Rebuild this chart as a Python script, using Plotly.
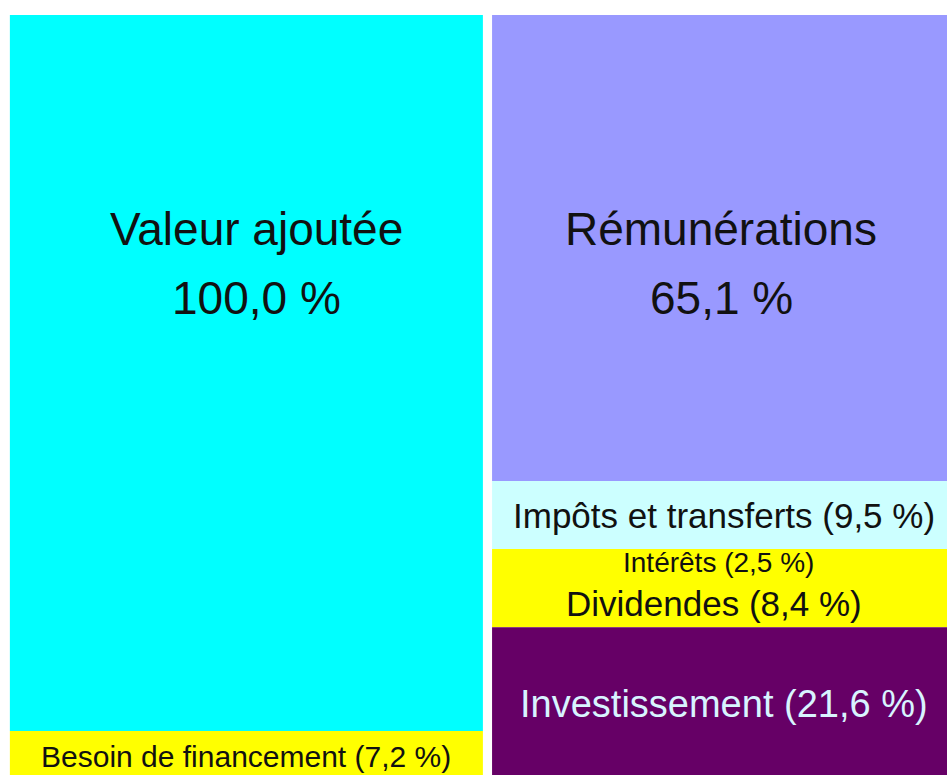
import numpy as np
import plotly.graph_objects as go

# left column: value added and financing need
left_labels = ["Valeur ajoutée", "Besoin de financement"]
left_values = [100.0, 7.2]
left_colors = ["#00ffff", "#ffff00"]

# right column: how it is used
right_labels = ["Rémunérations", "Impôts et transferts", "Intérêts", "Dividendes", "Investissement"]
right_values = [65.1, 9.5, 2.5, 8.4, 21.6]
right_colors = ["#9999ff", "#ccffff", "#ffff00", "#ffff00", "#660066"]

FONT = "Liberation Sans, Arial, sans-serif"


def pct(v):
    return ("%.1f" % v).replace(".", ",") + " %"


fig = go.Figure()

annotations = []
for xpos, labels, values, colors in [(0, left_labels, left_values, left_colors),
                                     (1, right_labels, right_values, right_colors)]:
    bases = np.concatenate([[0], np.cumsum(values)[:-1]])
    for lab, val, col, b in zip(labels, values, colors, bases):
        fig.add_trace(go.Bar(x=[xpos], y=[val], base=[b], width=0.981,
                             marker=dict(color=col, line=dict(width=0)),
                             name=lab, showlegend=False, hoverinfo="name"))

# big labels, two lines
big_y = right_values[0] / 2 + 2.3
for xpos, dx, lab, val in [(0, 0.02, left_labels[0], left_values[0]),
                           (1, -0.015, right_labels[0], right_values[0])]:
    annotations.append(dict(x=xpos + dx, y=big_y, text=lab, yshift=36,
                            font=dict(size=46, color="#111111", family=FONT), showarrow=False))
    annotations.append(dict(x=xpos + dx, y=big_y, text=pct(val), yshift=-33,
                            font=dict(size=46, color="#111111", family=FONT), showarrow=False))

# small labels centred in their segments
rb = np.concatenate([[0], np.cumsum(right_values)[:-1]])
lb = np.concatenate([[0], np.cumsum(left_values)[:-1]])
small = [
    (1, -0.01, rb[1] + right_values[1] / 2, right_labels[1], right_values[1], 35, "#111111", 0),
    (1, -0.02, rb[2] + right_values[2] / 2, right_labels[2], right_values[2], 28, "#111111", -4),
    (1, -0.03, rb[3] + right_values[3] / 2, right_labels[3], right_values[3], 35, "#111111", -6),
    (1, -0.01, rb[4] + right_values[4] / 2, right_labels[4], right_values[4], 38, "#d8f4ff", 0),
    (0, 0.0, lb[1] + left_values[1] / 2, left_labels[1], left_values[1], 30, "#111111", 0),
]
for xpos, dx, yc, lab, val, size, col, ys in small:
    annotations.append(dict(x=xpos + dx, y=yc, text="%s (%s)" % (lab, pct(val)), yshift=ys,
                            font=dict(size=size, color=col, family=FONT), showarrow=False))

fig.update_layout(
    width=947, height=775,
    margin=dict(l=0, r=0, t=0, b=0),
    paper_bgcolor="white", plot_bgcolor="white",
    barmode="overlay",
    annotations=annotations,
    xaxis=dict(range=[-0.511, 1.453], visible=False, fixedrange=True),
    yaxis=dict(range=[106.15, -2.095], visible=False, fixedrange=True),
)

fig.write_html("out.html", config={"displayModeBar": False},
               post_script="document.body.style.margin='0';")
